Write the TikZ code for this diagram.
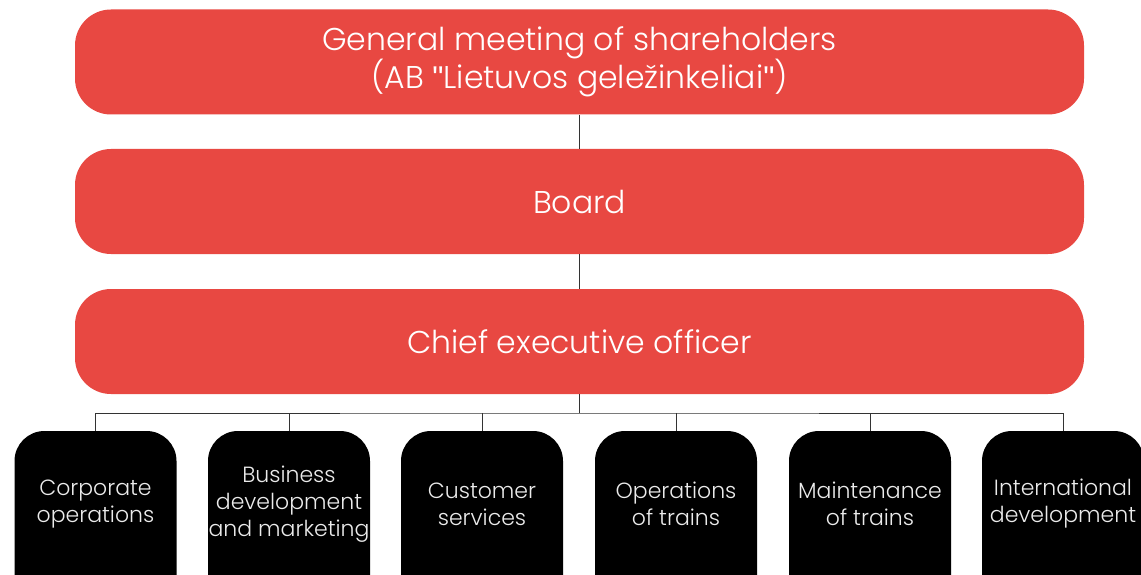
\documentclass[tikz,border=0pt]{standalone}
\usepackage{fontspec}
\setmainfont{Poppins}[UprightFont=* Light]
\newfontfamily\quotefont{Liberation Sans}
\newcommand{\straightquote}{{\quotefont\char"22}}
\definecolor{govred}{HTML}{E84842}
\definecolor{linkgray}{HTML}{333333}
\tikzset{
  govbox/.style={fill=govred, rounded corners=36pt, minimum width=1009pt,
    minimum height=105pt, inner sep=0pt, text=white, align=center,
    font=\fontsize{31.5}{38}\selectfont},
  unitbox/.style={fill=black, rounded corners=30pt, minimum width=162pt,
    minimum height=180pt, inner sep=0pt},
  unittext/.style={text=white!92!black, align=center, inner sep=0pt,
    font=\fontsize{22}{27}\selectfont},
  link/.style={draw=linkgray, line width=1pt}
}
\begin{document}
\begin{tikzpicture}[x=1pt,y=-1pt]
  \clip (0,0) rectangle (1141,575);
  \fill[white] (0,0) rectangle (1141,575);

  % governing bodies
  \node[govbox] (gm) at (579.5,62) {General meeting of shareholders\\(AB \straightquote Lietuvos geležinkeliai\straightquote)};
  \node[govbox] (bd) at (579.5,201.5) {Board};
  \node[govbox] (ceo) at (579.5,341.5) {Chief executive officer};

  \draw[link] (gm) -- (bd);
  \draw[link] (bd) -- (ceo);

  % business units
  \foreach \n/\x/\t in {u1/95.5/{Corporate\\operations},
                        u2/289/{Business\\development\\and marketing},
                        u3/482/{Customer\\services},
                        u4/676/{Operations\\of trains},
                        u5/870/{Maintenance\\of trains},
                        u6/1063/{International\\development}}{
    \node[unitbox] (\n) at (\x,521) {};
    \node[unittext] (\n t) at (\x,504) {\t};
  }

  % reporting lines
  \coordinate (bus) at (579.5,413);
  \draw[link] (ceo.south) -- (bus);
  \draw[link] (u1.north) |- (bus) -| (u6.north);
  \foreach \n in {u2,u3,u4,u5}{
    \draw[link] (\n.north) -- (\n.north |- bus);
  }
\end{tikzpicture}
\end{document}
